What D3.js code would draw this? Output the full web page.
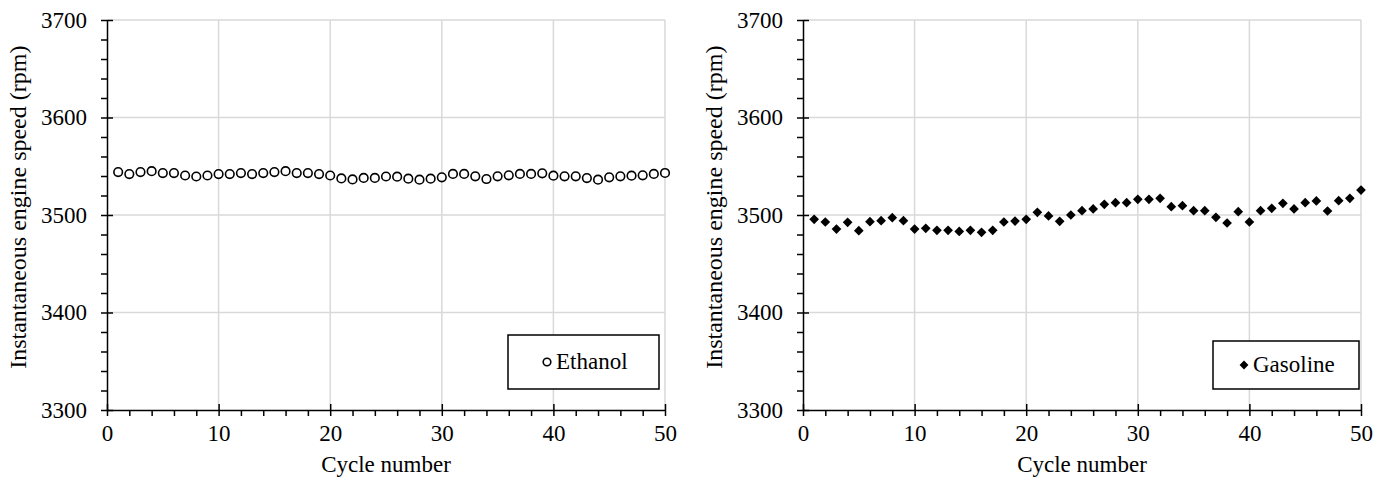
<!DOCTYPE html>
<html><head><meta charset="utf-8">
<script src="https://cdn.jsdelivr.net/npm/d3@7"></script>
<style>body{margin:0;background:#fff}svg{display:block}</style>
</head><body><svg id="c" width="1389" height="480"></svg>
<script>
const cycles = [1,2,3,4,5,6,7,8,9,10,11,12,13,14,15,16,17,18,19,20,21,22,23,24,25,26,27,28,29,30,31,32,33,34,35,36,37,38,39,40,41,42,43,44,45,46,47,48,49,50];
const ethanol = [3544,3542,3544,3545,3543,3543,3540.5,3539.5,3540.5,3542,3542,3543,3542,3543,3544,3545,3543,3543,3542,3540.5,3537.5,3536.5,3538,3538,3539.5,3539.3,3537.3,3536.2,3537.3,3538.6,3542.1,3542.1,3539.7,3536.9,3539.7,3540.7,3542.1,3542.1,3542.7,3540.3,3539.7,3539.7,3537.9,3536.2,3538.6,3539.7,3540.3,3540.7,3542.1,3543.1];
const gasoline = [3495.6,3492.8,3485.6,3492.5,3483.9,3493.2,3494.2,3497.3,3494.2,3485.6,3486.3,3484.3,3484.3,3483.2,3484.3,3482.2,3484.3,3492.8,3493.8,3495.6,3502.7,3499,3493.5,3500,3504.4,3506.2,3510.9,3512.6,3512.6,3516.1,3516.1,3517.1,3508.5,3509.6,3504.4,3504.4,3497.6,3491.8,3503.4,3492.8,3504.4,3506.8,3512,3506.2,3512.6,3514.4,3504.1,3514.7,3517.1,3525.6];
const xTicks = [0,10,20,30,40,50];
const yTicks = [3300,3400,3500,3600,3700];
const xTitle = "Cycle number";
const yTitle = "Instantaneous engine speed (rpm)";

const svg = d3.select("#c");
const FS = 23;
const FONT = '"Liberation Serif", "Times New Roman", serif';

function panel(x0, x1, values, name, marker, legend) {
  const x = d3.scaleLinear().domain([0,50]).range([x0,x1]);
  const y = d3.scaleLinear().domain([3300,3700]).range([410,20]);
  const g = svg.append("g");
  g.selectAll(".gx").data(xTicks.slice(1)).join("line")
    .attr("x1",d=>x(d)).attr("x2",d=>x(d)).attr("y1",y(3300)).attr("y2",y(3700))
    .attr("stroke","#d9d9d9").attr("stroke-width",1.5);
  g.selectAll(".gy").data(yTicks.slice(1)).join("line")
    .attr("x1",x(0)).attr("x2",x(50)).attr("y1",d=>y(d)).attr("y2",d=>y(d))
    .attr("stroke","#d9d9d9").attr("stroke-width",1.5);
  const xMinor = d3.range(0,51,2).filter(d=>d%10!==0);
  const yMinor = d3.range(3300,3701,20).filter(d=>d%100!==0);
  const fmt = d3.format("d");
  const xa = g.append("g").attr("transform",`translate(0,${y(3300)})`)
    .call(d3.axisBottom(x).tickValues(xMinor).tickSize(6).tickFormat(""));
  const ya = g.append("g").attr("transform",`translate(${x(0)},0)`)
    .call(d3.axisLeft(y).tickValues(yMinor).tickSize(6).tickFormat(""));
  const xb = g.append("g").attr("transform",`translate(0,${y(3300)})`)
    .call(d3.axisBottom(x).tickValues(xTicks).tickFormat(fmt).tickSize(6).tickSizeOuter(0).tickPadding(9));
  const xt = g.append("g").attr("transform",`translate(0,${y(3300)})`)
    .call(d3.axisTop(x).tickValues(xTicks).tickSize(6).tickSizeOuter(0).tickFormat(""));
  const yb = g.append("g").attr("transform",`translate(${x(0)},0)`)
    .call(d3.axisLeft(y).tickValues(yTicks).tickFormat(fmt).tickSize(6).tickSizeOuter(0).tickPadding(14));
  const yt = g.append("g").attr("transform",`translate(${x(0)},0)`)
    .call(d3.axisRight(y).tickValues(yTicks).tickSize(6).tickSizeOuter(0).tickFormat(""));
  [xa,ya,xb,xt,yb,yt].forEach(a=>{
    a.selectAll("path").attr("stroke","#000").attr("stroke-width",1.5);
    a.selectAll("line").attr("stroke","#000").attr("stroke-width",1.5);
    a.selectAll("text").style("font-family",FONT).style("font-size",FS+"px").attr("fill","#000");
  });
  xa.select("path").remove(); ya.select("path").remove();
  xt.select("path").remove(); yt.select("path").remove();
  g.append("text").attr("x",(x0+x1)/2).attr("y",472).attr("text-anchor","middle")
    .style("font-family",FONT).style("font-size",FS+"px").text(xTitle);
  g.append("text").attr("transform",`translate(${x0-81},${y(3508)}) rotate(-90)`)
    .attr("text-anchor","middle").style("font-family",FONT).style("font-size","24px").text(yTitle);
  const pts = cycles.map((c,i)=>({c, v: values[i]}));
  if (marker === "circle") {
    g.selectAll(".p").data(pts).join("circle")
      .attr("cx",d=>x(d.c)).attr("cy",d=>y(d.v)).attr("r",4.3)
      .attr("fill","#fff").attr("stroke","#000").attr("stroke-width",1.6);
  } else {
    const sym = d3.symbol().type(d3.symbolDiamond2).size(60);
    g.selectAll(".p").data(pts).join("path")
      .attr("transform",d=>`translate(${x(d.c)},${y(d.v)})`).attr("d",sym).attr("fill","#000");
  }
  const lg = g.append("g");
  lg.append("rect").attr("x",legend.x).attr("y",legend.y).attr("width",legend.w).attr("height",legend.h)
    .attr("fill","#fff").attr("stroke","#000").attr("stroke-width",1.5);
  if (marker === "circle") {
    lg.append("circle").attr("cx",legend.mx).attr("cy",legend.y+legend.h/2).attr("r",3.8)
      .attr("fill","#fff").attr("stroke","#000").attr("stroke-width",1.6);
  } else {
    lg.append("path").attr("transform",`translate(${legend.mx},${legend.y+legend.h/2})`)
      .attr("d",d3.symbol().type(d3.symbolDiamond2).size(50)).attr("fill","#000");
  }
  lg.append("text").attr("x",legend.mx+9).attr("y",legend.y+legend.h/2+7)
    .style("font-family",FONT).style("font-size",FS+"px").text(name);
}

panel(107, 665, ethanol, "Ethanol", "circle", {x:508,y:335,w:151,h:54,mx:547});
panel(803, 1361, gasoline, "Gasoline", "diamond", {x:1213,y:341,w:146,h:48,mx:1244});
</script></body></html>
